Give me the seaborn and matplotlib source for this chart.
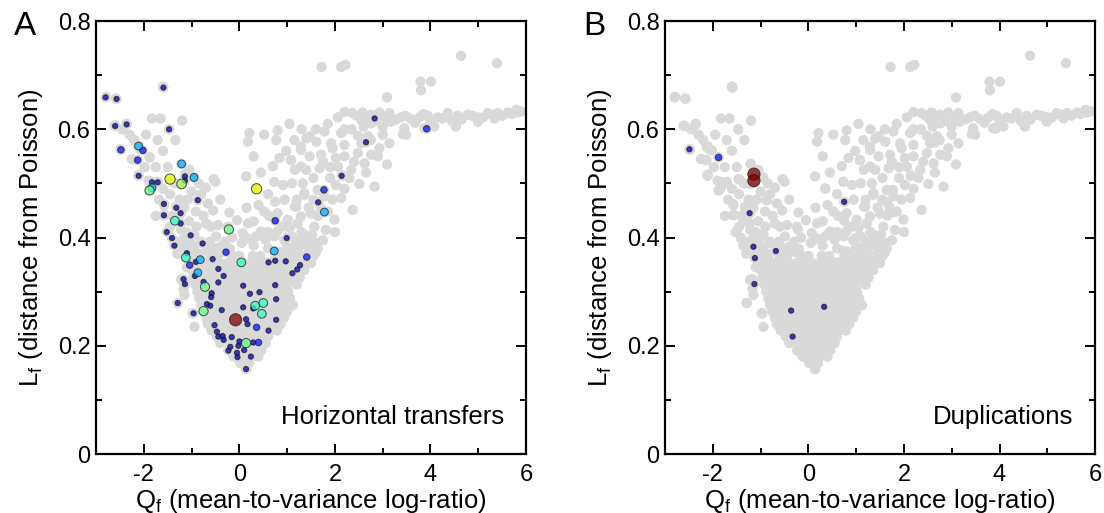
import matplotlib
matplotlib.use("Agg")
import matplotlib.pyplot as plt
import seaborn as sns
import pandas as pd
from matplotlib.ticker import FixedLocator

# ---------------- background gene families (gray, identical in both panels) -------------
bg_left_arm = [
    (-2.79, 0.660), (-2.58, 0.657), (-1.60, 0.679), (-2.61, 0.607), (-2.36, 0.610), (-1.83, 0.620),
    (-1.47, 0.600), (-1.20, 0.616), (-1.71, 0.580), (-1.34, 0.580), (-2.49, 0.563), (-2.13, 0.568),
    (-2.06, 0.562), (-2.14, 0.543), (-1.88, 0.548), (-1.21, 0.536), (-2.11, 0.516), (-1.85, 0.503),
    (-1.71, 0.503), (-1.86, 0.488), (-1.46, 0.508), (-1.14, 0.510), (-1.21, 0.499), (-0.95, 0.511),
    (-0.70, 0.492), (-0.50, 0.503), (-0.54, 0.508), (-0.87, 0.469), (-0.66, 0.463), (-1.57, 0.460),
    (-1.32, 0.457), (-0.91, 0.448), (-1.56, 0.442), (-1.08, 0.470), (-1.23, 0.445), (-1.29, 0.432),
    (-1.35, 0.431), (-0.70, 0.426), (-1.23, 0.426), (-0.45, 0.423), (-0.24, 0.420), (-0.21, 0.446),
    (-1.50, 0.411), (-1.22, 0.414), (-1.05, 0.430), (-0.90, 0.420), (-0.94, 0.405), (-1.36, 0.392),
    (-1.01, 0.389), (-0.80, 0.392), (-0.49, 0.402), (-1.41, 0.399), (-0.65, 0.380), (-0.30, 0.392),
    (-1.29, 0.279), (-1.15, 0.294), (-1.22, 0.322), (-0.98, 0.260), (-0.94, 0.235), (-1.17, 0.305),
    (-1.10, 0.345), (-1.26, 0.372), (-1.45, 0.420), (-1.68, 0.470), (-1.98, 0.530), (-2.30, 0.590),
    (-2.45, 0.600), (-2.20, 0.580), (-1.95, 0.590), (-1.60, 0.560), (-1.50, 0.530), (-1.75, 0.530),
    (-1.35, 0.500), (-1.60, 0.490), (-1.25, 0.470), (-1.45, 0.480), (-1.00, 0.485), (-0.80, 0.480),
    (-1.15, 0.455), (-1.40, 0.440), (-1.10, 0.410), (-0.75, 0.440), (-0.60, 0.420), (-0.55, 0.450),
    (-1.30, 0.370), (-0.85, 0.370), (-0.50, 0.380), (-0.15, 0.400), (-1.00, 0.370), (-2.25, 0.545),
    (-1.65, 0.620), (-1.05, 0.525), (-0.85, 0.500), (-0.40, 0.470), (-1.75, 0.440), (-1.90, 0.505),
]

bg_core_rows = {
    0.157: [0.14],
    0.168: [0.02, 0.20],
    0.180: [-0.12, 0.05, 0.24, 0.40],
    0.192: [-0.23, -0.05, 0.12, 0.30, 0.46],
    0.205: [-0.40, -0.15, 0.00, 0.18, 0.35, 0.55],
    0.217: [-0.47, -0.30, -0.12, 0.06, 0.24, 0.42, 0.60],
    0.228: [-0.58, -0.40, -0.22, -0.05, 0.13, 0.30, 0.48, 0.65, 0.78],
    0.240: [-0.66, -0.50, -0.32, -0.14, 0.03, 0.20, 0.38, 0.55, 0.72, 0.86],
    0.252: [-0.70, -0.55, -0.38, -0.20, -0.03, 0.12, 0.30, 0.47, 0.63, 0.80, 0.94],
    0.263: [-0.75, -0.60, -0.44, -0.27, -0.10, 0.06, 0.22, 0.39, 0.55, 0.72, 0.88, 1.00],
    0.275: [-0.80, -0.63, -0.47, -0.30, -0.14, 0.02, 0.18, 0.34, 0.50, 0.66, 0.82, 0.98, 1.12],
    0.288: [-0.84, -0.68, -0.52, -0.36, -0.20, -0.04, 0.12, 0.28, 0.44, 0.60, 0.76, 0.92, 1.06],
    0.300: [-0.88, -0.72, -0.56, -0.40, -0.25, -0.08, 0.08, 0.24, 0.40, 0.56, 0.72, 0.88, 1.02],
    0.313: [-0.92, -0.76, -0.60, -0.44, -0.28, -0.12, 0.04, 0.20, 0.36, 0.52, 0.68, 0.84, 1.00, 1.20],
    0.326: [-0.96, -0.80, -0.64, -0.48, -0.32, -0.16, 0.00, 0.16, 0.32, 0.48, 0.64, 0.80, 0.96, 1.12, 1.26],
    0.340: [-1.00, -0.84, -0.68, -0.52, -0.36, -0.20, -0.04, 0.12, 0.28, 0.44, 0.60, 0.76, 0.92, 1.08, 1.22, 1.36],
    0.353: [-1.04, -0.88, -0.72, -0.56, -0.40, -0.24, -0.08, 0.08, 0.24, 0.40, 0.56, 0.72, 0.88, 1.04, 1.20, 1.36, 1.50],
    0.366: [-1.08, -0.90, -0.60, -0.45, -0.15, 0.00, 0.28, 0.44, 0.75, 0.90, 1.06, 1.22, 1.38, 1.55],
}

bg_core_top = [
    (-1.12, 0.378), (-0.95, 0.381), (-0.55, 0.376), (-0.40, 0.383), (-0.20, 0.379), (0.30, 0.385),
    (0.60, 0.380), (0.82, 0.374), (1.00, 0.383), (1.15, 0.377), (1.30, 0.386), (1.45, 0.379),
    (1.60, 0.372), (-1.20, 0.395), (-0.62, 0.392), (0.18, 0.398), (0.94, 0.395), (1.10, 0.402),
    (1.25, 0.393), (1.42, 0.398), (1.64, 0.390), (0.35, 0.402), (0.55, 0.396), (0.80, 0.412),
    (1.05, 0.418), (1.52, 0.405), (0.62, 0.440), (-0.05, 0.432), (0.15, 0.455), (0.05, 0.390),
]

bg_right_arm = [
    (0.21, 0.593), (0.18, 0.577), (0.52, 0.590), (0.80, 0.598), (0.77, 0.580), (1.40, 0.583),
    (0.14, 0.513), (0.35, 0.491), (0.70, 0.532), (0.84, 0.547), (1.08, 0.543), (1.29, 0.562),
    (1.16, 0.525), (0.73, 0.503), (0.91, 0.497), (1.29, 0.531), (1.36, 0.482), (0.52, 0.448),
    (0.80, 0.445), (1.16, 0.457), (1.01, 0.433), (1.29, 0.439), (0.18, 0.426), (0.07, 0.408),
    (0.45, 0.411), (0.74, 0.402), (0.30, 0.550), (0.45, 0.520), (0.60, 0.480), (0.95, 0.470),
    (1.10, 0.500), (0.60, 0.410), (0.90, 0.420), (0.30, 0.430), (0.40, 0.460), (1.20, 0.470),
    (0.98, 0.560), (1.15, 0.580),
    (1.47, 0.587), (1.78, 0.596), (2.13, 0.593), (2.48, 0.588), (2.69, 0.587), (1.29, 0.568),
    (1.61, 0.577), (1.92, 0.574), (2.20, 0.571), (2.55, 0.574), (2.93, 0.565), (3.14, 0.574),
    (3.42, 0.591), (1.08, 0.543), (1.47, 0.550), (1.71, 0.553), (2.02, 0.547), (2.20, 0.550),
    (2.48, 0.556), (2.76, 0.553), (3.09, 0.535), (1.40, 0.525), (1.68, 0.528), (2.06, 0.531),
    (2.34, 0.525), (2.62, 0.537), (2.02, 0.497), (2.51, 0.499), (2.83, 0.494), (1.33, 0.500),
    (1.64, 0.488), (1.78, 0.476), (2.13, 0.473), (2.37, 0.451), (1.36, 0.479), (1.19, 0.457),
    (1.50, 0.444), (1.85, 0.448), (1.99, 0.433), (1.22, 0.426), (1.57, 0.420), (1.81, 0.414),
    (1.36, 0.405), (1.19, 0.389), (1.50, 0.389), (1.64, 0.380), (1.22, 0.374), (1.90, 0.510),
    (1.55, 0.510), (1.75, 0.540), (1.95, 0.565), (2.35, 0.600), (1.85, 0.610), (2.60, 0.605),
    (1.55, 0.470), (1.70, 0.455), (1.95, 0.470), (2.20, 0.490), (2.30, 0.510), (2.65, 0.520),
    (2.40, 0.540), (2.90, 0.550), (2.75, 0.580), (3.00, 0.590), (2.20, 0.600), (1.60, 0.600),
    (1.30, 0.600), (1.05, 0.610), (1.90, 0.530), (2.15, 0.515), (1.45, 0.455), (1.65, 0.440),
    (1.30, 0.410), (1.45, 0.370), (1.75, 0.395), (2.00, 0.410),
]

bg_plateau = [
    (2.06, 0.622), (2.37, 0.630), (2.58, 0.631), (2.76, 0.627), (2.93, 0.631), (3.14, 0.630),
    (3.38, 0.622), (3.59, 0.619), (3.77, 0.622), (3.94, 0.625), (4.15, 0.622), (4.36, 0.630),
    (4.57, 0.625), (4.78, 0.627), (4.99, 0.622), (5.20, 0.630), (5.41, 0.630), (5.62, 0.631),
    (5.83, 0.631), (2.55, 0.617), (2.76, 0.611), (3.00, 0.605), (3.17, 0.614), (3.45, 0.602),
    (3.49, 0.590), (3.87, 0.602), (4.08, 0.605), (4.53, 0.605), (4.99, 0.614), (5.34, 0.620),
    (2.20, 0.632), (2.45, 0.625), (2.65, 0.620), (2.85, 0.615), (3.05, 0.622), (3.28, 0.618),
    (3.48, 0.625), (3.68, 0.612), (3.85, 0.628), (4.00, 0.615), (4.25, 0.620), (4.45, 0.615),
    (4.65, 0.618), (4.88, 0.625), (5.10, 0.622), (5.28, 0.627), (5.50, 0.625), (5.70, 0.628),
    (5.90, 0.633), (5.80, 0.636),
]

bg_outliers = [
    (1.72, 0.715), (2.13, 0.715), (2.22, 0.719), (4.64, 0.736), (5.39, 0.722),
    (3.79, 0.688), (4.01, 0.688), (3.80, 0.672), (3.09, 0.659),
]

# ---------------- highlighted families (colour/size = fraction of events) ---------------
class_value = {"navy": 0.04, "blue": 0.15, "sky": 0.30, "teal": 0.41, "green": 0.48,
               "lime": 0.55, "yellow": 0.64, "red": 1.0}

ht_points = {
    "navy": [(-2.80, 0.659), (-2.57, 0.656), (-1.59, 0.677), (-2.60, 0.606), (-2.36, 0.609),
             (-1.47, 0.600), (-2.11, 0.514), (-1.83, 0.502), (-1.71, 0.502), (-1.14, 0.513),
             (-1.14, 0.505), (-0.87, 0.469), (-1.58, 0.462), (-1.58, 0.441), (-1.32, 0.455),
             (-1.23, 0.445), (-1.23, 0.426), (-1.52, 0.410), (-1.41, 0.399), (-1.02, 0.404),
             (-1.36, 0.385), (-0.77, 0.389), (0.99, 0.399), (1.65, 0.465), (2.14, 0.514),
             (2.83, 0.620), (2.65, 0.576), (-1.10, 0.371), (-0.91, 0.355), (-0.93, 0.329),
             (-1.17, 0.323), (-1.14, 0.314), (-0.56, 0.360), (-0.44, 0.342), (-0.33, 0.329),
             (-0.44, 0.317), (-0.75, 0.318), (-0.58, 0.297), (-0.59, 0.290), (-0.61, 0.274),
             (-0.68, 0.277), (-0.96, 0.260), (-1.29, 0.279), (-0.37, 0.266), (0.08, 0.311),
             (0.22, 0.296), (0.42, 0.299), (0.75, 0.312), (0.77, 0.286), (0.08, 0.271),
             (0.29, 0.269), (0.61, 0.354), (0.75, 0.357), (0.97, 0.356), (1.27, 0.349),
             (1.21, 0.341), (1.11, 0.334), (0.14, 0.249), (0.17, 0.240), (0.61, 0.228),
             (0.77, 0.248), (-0.52, 0.238), (-0.47, 0.226), (-0.44, 0.217), (-0.35, 0.218),
             (-0.33, 0.211), (-0.16, 0.216), (-0.19, 0.198), (-0.23, 0.191), (-0.02, 0.200),
             (0.00, 0.208), (-0.05, 0.187), (-0.04, 0.179), (0.10, 0.192), (0.24, 0.180),
             (0.14, 0.157), (0.29, 0.206)],
    "blue": [(-2.48, 0.562), (-2.13, 0.543), (-2.02, 0.561), (-0.28, 0.373), (1.77, 0.488),
             (0.75, 0.431), (1.41, 0.364), (-1.04, 0.349), (0.36, 0.234), (0.40, 0.206),
             (3.92, 0.601)],
    "sky": [(-2.11, 0.569), (-1.21, 0.536), (-0.95, 0.511), (-1.83, 0.492), (1.78, 0.447),
            (0.73, 0.375), (-0.82, 0.359), (-0.87, 0.335)],
    "teal": [(-1.35, 0.431), (-1.12, 0.363), (0.04, 0.354), (0.33, 0.274), (0.50, 0.279),
             (0.47, 0.259)],
    "green": [(-1.88, 0.487), (-0.22, 0.415), (-0.72, 0.309), (-0.75, 0.264), (0.14, 0.205)],
    "lime": [(-1.21, 0.499)],
    "yellow": [(-1.45, 0.508), (0.36, 0.490)],
    "red": [(-0.08, 0.248)],
}

dup_points = {
    "navy": [(-2.49, 0.563), (-1.23, 0.445), (-1.15, 0.383), (-1.12, 0.362), (-0.68, 0.375),
             (-1.13, 0.314), (0.75, 0.466), (-0.36, 0.265), (0.33, 0.272), (-0.33, 0.217)],
    "blue": [(-1.88, 0.548)],
    "red": [(-1.14, 0.517), (-1.14, 0.505)],
}

x_ticks = [-2, 0, 2, 4, 6]
x_minor = [-1, 1, 3, 5]
y_ticks = [0, 0.2, 0.4, 0.6, 0.8]
y_tick_labels = ["0", "0.2", "0.4", "0.6", "0.8"]
y_minor = [0.1, 0.3, 0.5, 0.7]
panel_titles = ["Horizontal transfers", "Duplications"]
panel_letters = ["A", "B"]

# ---------------- build tables ----------------
bg_rows = (list(bg_left_arm) + list(bg_core_top) + list(bg_right_arm) + list(bg_plateau)
           + list(bg_outliers))
for yy, xs in bg_core_rows.items():
    bg_rows += [(xx, yy) for xx in xs]
for pts in list(ht_points.values()) + list(dup_points.values()):
    bg_rows += pts
bg = pd.DataFrame(bg_rows, columns=["Q", "L"])


def to_frame(d):
    rows = []
    for cls in ["navy", "blue", "sky", "teal", "green", "lime", "yellow", "red"]:
        for (xx, yy) in d.get(cls, []):
            rows.append((xx, yy, class_value[cls]))
    return pd.DataFrame(rows, columns=["Q", "L", "v"])


frames = [to_frame(ht_points), to_frame(dup_points)]
jet = matplotlib.colormaps["jet"]

# ---------------- figure ----------------
sns.set_style("ticks")
plt.rcParams["font.family"] = ["Liberation Sans", "DejaVu Sans"]
plt.rcParams["mathtext.fontset"] = "custom"
plt.rcParams["mathtext.rm"] = "Liberation Sans"
plt.rcParams["axes.unicode_minus"] = False
plt.rcParams["text.color"] = "black"
plt.rcParams["axes.labelcolor"] = "black"
plt.rcParams["xtick.color"] = "black"
plt.rcParams["ytick.color"] = "black"

fig = plt.figure(figsize=(11.04, 5.13), dpi=100)
ax_pos = [[0.087, 0.115, 0.3895, 0.844], [0.6024, 0.115, 0.3895, 0.844]]

for i in range(2):
    ax = fig.add_axes(ax_pos[i])
    sns.scatterplot(data=bg, x="Q", y="L", ax=ax, color="#d9d9d9", s=55,
                    edgecolor="none", linewidth=0, legend=False, zorder=2)
    sns.scatterplot(data=frames[i], x="Q", y="L", hue="v", size="v", ax=ax,
                    palette=jet, hue_norm=(0, 1), sizes=(12, 78), size_norm=(0, 1),
                    edgecolor="#1a1a1a", linewidth=0.7, alpha=0.75, legend=False, zorder=3)
    ax.set_xlim(-3, 6)
    ax.set_ylim(0, 0.8)
    ax.xaxis.set_major_locator(FixedLocator(x_ticks))
    ax.xaxis.set_minor_locator(FixedLocator(x_minor))
    ax.yaxis.set_major_locator(FixedLocator(y_ticks))
    ax.yaxis.set_minor_locator(FixedLocator(y_minor))
    ax.set_xticklabels([str(t) for t in x_ticks])
    ax.set_yticklabels(y_tick_labels)
    ax.tick_params(which="both", direction="in", top=True, right=True, width=1.4,
                   labelsize=17, colors="black", labelcolor="black")
    ax.tick_params(which="major", length=7)
    ax.tick_params(which="minor", length=4)
    ax.tick_params(axis="x", pad=7)
    ax.tick_params(axis="y", pad=4)
    for sp in ax.spines.values():
        sp.set_linewidth(1.6)
        sp.set_color("black")
        sp.set_visible(True)
    ax.set_xlabel(r"Q$_{\mathregular{f}}$ (mean-to-variance log-ratio)", fontsize=18.5,
                  labelpad=1, color="black")
    ax.set_ylabel(r"L$_{\mathregular{f}}$ (distance from Poisson)", fontsize=18.5,
                  labelpad=9, color="black")
    ax.text(0.95, 0.085, panel_titles[i], transform=ax.transAxes, ha="right", va="center",
            fontsize=18.5, color="black")
    fig.text(ax_pos[i][0] - 0.074, 0.932, panel_letters[i], fontsize=24, ha="left",
             va="baseline", color="black")

fig.savefig("out.png", dpi=100)
